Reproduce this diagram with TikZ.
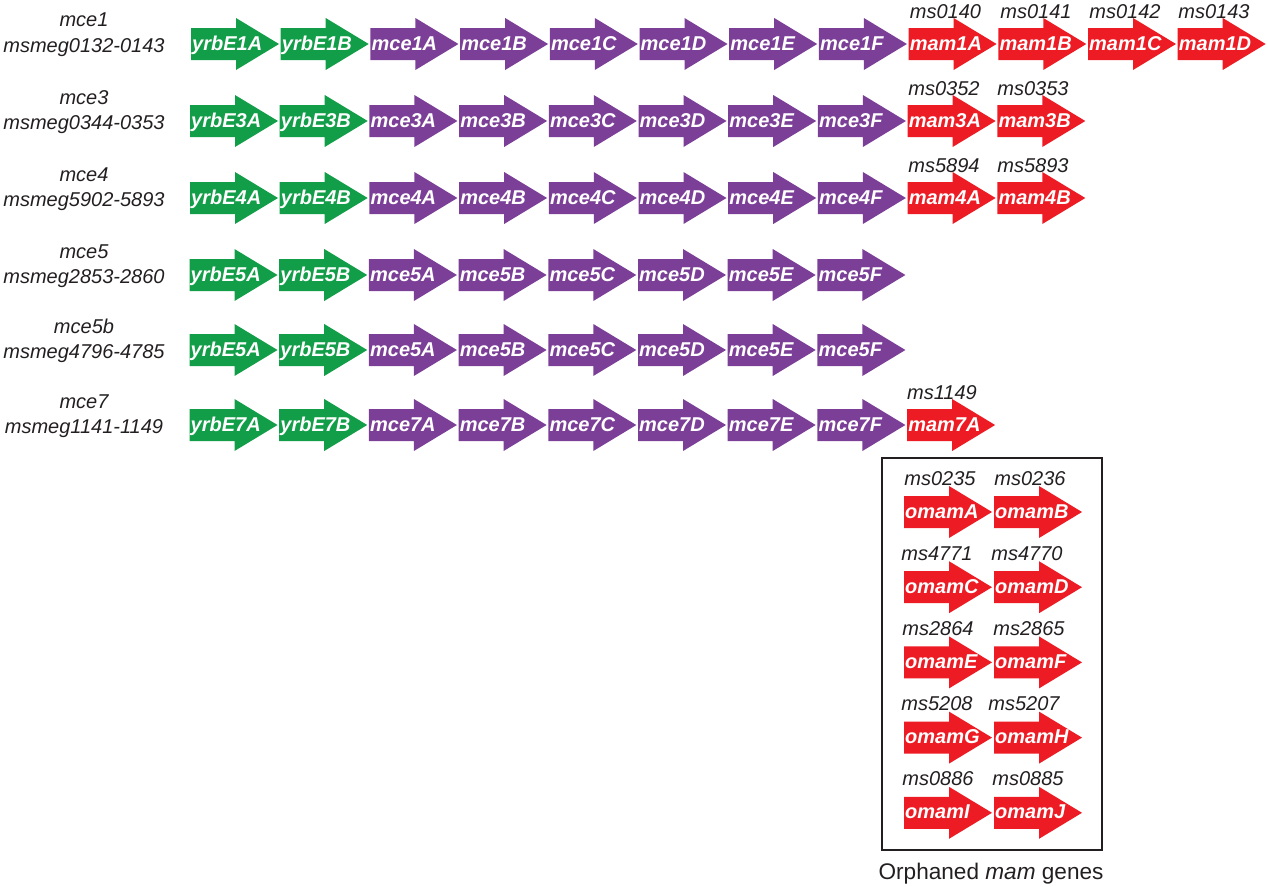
\documentclass[tikz,border=0pt]{standalone}
\usepackage{fontspec}
\setmainfont{Liberation Sans}
\definecolor{genegreen}{RGB}{18,158,72}
\definecolor{genepurple}{RGB}{124,63,152}
\definecolor{genered}{RGB}{237,28,36}
\definecolor{ink}{RGB}{35,31,32}
\tikzset{
  genetext/.style={text=white, inner sep=0pt, font=\fontsize{20}{24}\selectfont\bfseries\itshape, anchor=base west},
  tagtext/.style={text=ink, inner sep=0pt, font=\fontsize{20}{24}\selectfont\itshape, anchor=base},
  opertext/.style={text=ink, inner sep=0pt, font=\fontsize{20}{24}\selectfont\itshape, anchor=base},
  gr/.style={fill=genegreen},
  pu/.style={fill=genepurple},
  rd/.style={fill=genered},
}
% gene arrow: #1 node name, #2 left x, #3 centre y, #4 fill style, #5 gene name
\newcommand\genearrow[5]{%
  \fill[#4] ({#2},{#3-16}) -- ++(45,0) -- ++(0,-10) -- ++(43,26) -- ++(-43,26)
    -- ++(0,-10) -- ++(-45,0) -- cycle;
  \node[genetext] (#1) at ({#2+1},{#3+6}) {#5};
}
\begin{document}
\begin{tikzpicture}[x=1pt,y=-1pt]
\useasboundingbox (0,0) rectangle (1268,886);

% operon names
\node[opertext] (op1a) at (84,27) {mce1};
\node[opertext] (op1b) at (84,52) {msmeg0132-0143};
\node[opertext] (op3a) at (84,104) {mce3};
\node[opertext] (op3b) at (84,129) {msmeg0344-0353};
\node[opertext] (op4a) at (84,181) {mce4};
\node[opertext] (op4b) at (84,206) {msmeg5902-5893};
\node[opertext] (op5a) at (84,258) {mce5};
\node[opertext] (op5b) at (84,283) {msmeg2853-2860};
\node[opertext] (op6a) at (84,333) {mce5b};
\node[opertext] (op6b) at (84,358) {msmeg4796-4785};
\node[opertext] (op7a) at (84,408) {mce7};
\node[opertext] (op7b) at (84,433) {msmeg1141-1149};

% operon rows
\foreach \c/\t [count=\i from 0] in {gr/yrbE1A,gr/yrbE1B,pu/mce1A,pu/mce1B,pu/mce1C,pu/mce1D,pu/mce1E,pu/mce1F,rd/mam1A,rd/mam1B,rd/mam1C,rd/mam1D}
  {\genearrow{ra\i}{191+\i*89.7}{44}{\c}{\t}}
\foreach \c/\t [count=\i from 0] in {gr/yrbE3A,gr/yrbE3B,pu/mce3A,pu/mce3B,pu/mce3C,pu/mce3D,pu/mce3E,pu/mce3F,rd/mam3A,rd/mam3B}
  {\genearrow{rb\i}{190+\i*89.7}{121}{\c}{\t}}
\foreach \c/\t [count=\i from 0] in {gr/yrbE4A,gr/yrbE4B,pu/mce4A,pu/mce4B,pu/mce4C,pu/mce4D,pu/mce4E,pu/mce4F,rd/mam4A,rd/mam4B}
  {\genearrow{rc\i}{190+\i*89.7}{198}{\c}{\t}}
\foreach \c/\t [count=\i from 0] in {gr/yrbE5A,gr/yrbE5B,pu/mce5A,pu/mce5B,pu/mce5C,pu/mce5D,pu/mce5E,pu/mce5F}
  {\genearrow{rd\i}{189.5+\i*89.7}{275}{\c}{\t}}
\foreach \c/\t [count=\i from 0] in {gr/yrbE5A,gr/yrbE5B,pu/mce5A,pu/mce5B,pu/mce5C,pu/mce5D,pu/mce5E,pu/mce5F}
  {\genearrow{re\i}{189.5+\i*89.7}{350}{\c}{\t}}
\foreach \c/\t [count=\i from 0] in {gr/yrbE7A,gr/yrbE7B,pu/mce7A,pu/mce7B,pu/mce7C,pu/mce7D,pu/mce7E,pu/mce7F,rd/mam7A}
  {\genearrow{rf\i}{189.5+\i*89.7}{425}{\c}{\t}}

% locus tags above the mam genes
\node[tagtext] (ta0) at (945.5,18) {ms0140};
\node[tagtext] (ta1) at (1036,18) {ms0141};
\node[tagtext] (ta2) at (1125,18) {ms0142};
\node[tagtext] (ta3) at (1214,18) {ms0143};
\node[tagtext] (tb0) at (944,95) {ms0352};
\node[tagtext] (tb1) at (1033,95) {ms0353};
\node[tagtext] (tc0) at (944,172) {ms5894};
\node[tagtext] (tc1) at (1033,172) {ms5893};
\node[tagtext] (tf0) at (942,399) {ms1149};

% orphaned genes
\draw[line width=2pt, draw=ink] (882,458) rectangle (1102,850);
\foreach \a/\b/\ta/\tb/\ya/\yb [count=\k from 1] in
  {omamA/omamB/ms0235/ms0236/940/1030, omamC/omamD/ms4771/ms4770/937/1027,
   omamE/omamF/ms2864/ms2865/938/1029, omamG/omamH/ms5208/ms5207/937/1024,
   omamI/omamJ/ms0886/ms0885/938/1028}
{
  \pgfmathsetmacro\yy{512+(\k-1)*75.2}
  \genearrow{oa\k}{904}{\yy}{rd}{\a}
  \genearrow{ob\k}{994}{\yy}{rd}{\b}
  \node[tagtext] (ota\k) at (\ya,\yy-27) {\ta};
  \node[tagtext] (otb\k) at (\yb,\yy-27) {\tb};
}
\node[text=ink, inner sep=0pt, anchor=base, font=\fontsize{22.6}{27}\selectfont] (cap) at (991,879) {Orphaned \textit{mam} genes};
\end{tikzpicture}
\end{document}
